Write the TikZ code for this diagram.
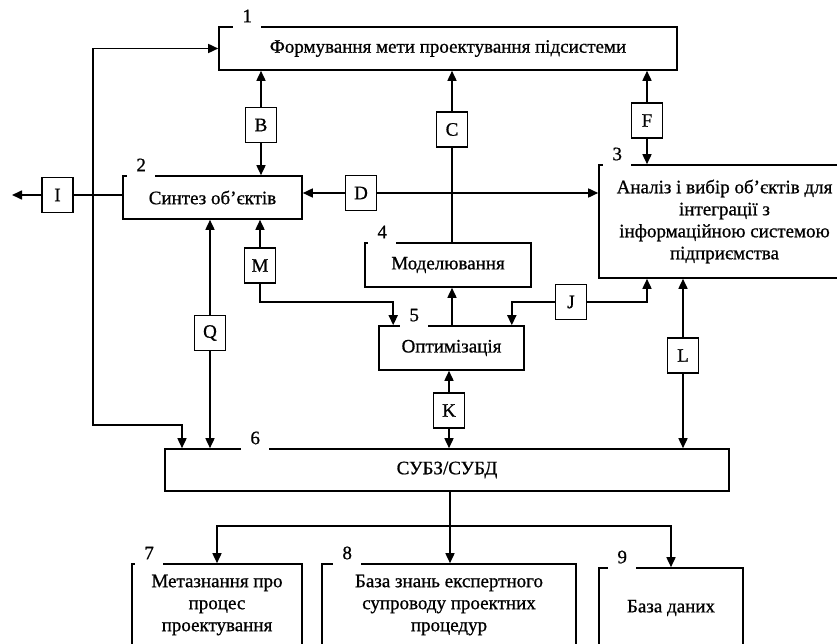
\documentclass[tikz,border=0pt]{standalone}
\usepackage{fontspec}
\setmainfont{Liberation Serif}[FakeBold=0.8]
\usetikzlibrary{arrows.meta}

\begin{document}
\begin{tikzpicture} [x=1pt, y=-1pt, line width=1.6pt, >={Triangle[length=10pt,width=9pt]},
    font=\fontsize{19}{22}\selectfont,
    blk/.style={draw, inner sep=0pt, align=center},
    tag/.style={draw, fill=white, minimum width=31pt, minimum height=35pt, inner sep=0pt},
    num/.style={fill=white, anchor=base, minimum width=28pt, inner sep=0pt, text depth=6pt}]
    \useasboundingbox (0,0) rectangle (837,644);
    \clip (0,0) rectangle (837,644);

    \node (b1) [blk, minimum width=458pt, minimum height=43pt] at (448,48.5) {Формування мети проектування підсистеми};
    \node (b2) [blk, minimum width=179pt, minimum height=43pt] at (212.5,197.5) {Синтез об’єктів};
    \node (b3) [blk, minimum width=251pt, minimum height=113pt] at (724.5,221.5) {Аналіз і вибір об’єктів для\\інтеграції з\\інформаційною системою\\підприємства};
    \node (b4) [blk, minimum width=166pt, minimum height=44pt] at (448,265) {Моделювання};
    \node (b5) [blk, minimum width=145pt, minimum height=44pt] at (451.5,348) {Оптимізація};
    \node (b6) [blk, minimum width=564pt, minimum height=42pt] at (447,470) {СУБЗ/СУБД};
    \node (b7) [blk, minimum width=170pt, minimum height=82pt] at (217,605) {Метазнання про\\процес\\проектування};
    \node (b8) [blk, minimum width=254pt, minimum height=82pt] at (449,605) {База знань експертного\\супроводу проектних\\процедур};
    \node (b9) [blk, minimum width=144pt, minimum height=80pt] at (671,608) {База даних};

    \node (n1) [num] at ([xshift=29pt,yshift=4pt]b1.north west) {1};
    \node (n2) [num] at ([xshift=19pt,yshift=4pt]b2.north west) {2};
    \node (n3) [num] at ([xshift=19pt,yshift=4pt]b3.north west) {3};
    \node (n4) [num] at ([xshift=18pt,yshift=4pt]b4.north west) {4};
    \node (n5) [num] at ([xshift=36pt,yshift=4pt]b5.north west) {5};
    \node (n6) [num] at ([xshift=91pt,yshift=4pt]b6.north west) {6};
    \node (n7) [num] at ([xshift=18pt,yshift=4pt]b7.north west) {7};
    \node (n8) [num] at ([xshift=26pt,yshift=4pt]b8.north west) {8};
    \node (n9) [num] at ([xshift=24pt,yshift=4pt]b9.north west) {9};

    \node (I) [tag] at (57.5,195) {I};
    \node (B) [tag] at (261,125) {B};
    \node (C) [tag] at (452,129.5) {C};
    \node (D) [tag] at (361,193) {D};
    \node (F) [tag] at (647,120.5) {F};
    \node (M) [tag] at (260,265.5) {M};
    \node (Q) [tag] at (210,333) {Q};
    \node (J) [tag] at (571,302) {J};
    \node (K) [tag] at (449,410.5) {K};
    \node (L) [tag] at (683,355.5) {L};

    \coordinate (iout) at (12,195);
    \coordinate (lp) at (93,425);
    \coordinate (lq) at (182,425);
    \coordinate (sp) at (450,526);

    \draw (I.east) -- (I -| b2.west);
    \draw [->] (I.west) -- (iout);
    \draw [<->] (b1.west) -| (lp) -- (lq) -- (lq |- b6.north);
    \draw [->] (B.north) -- (B |- b1.south);
    \draw [->] (B.south) -- (B |- b2.north);
    \draw (C.south) -- (C |- b4.north);
    \draw [->] (C.north) -- (C |- b1.south);
    \draw [->] (F.north) -- (F |- b1.south);
    \draw [->] (F.south) -- (F |- b3.north);
    \draw [->] (D.west) -- (D -| b2.east);
    \draw [->] (D.east) -- (D -| b3.west);
    \draw [->] (M.north) -- (M |- b2.south);
    \draw [->] (M.south) -- ++(0,18) -| ([xshift=15pt]b5.north west);
    \draw [->] (Q.north) -- (Q |- b2.south);
    \draw [->] (Q.south) -- (Q |- b6.north);
    \draw [->] (C |- b5.north) -- (C |- b4.south);
    \draw [->] (J.east) -| (F |- b3.south);
    \draw [->] (J.west) -| ([xshift=-13pt]b5.north east);
    \draw [->] (K.north) -- (K |- b5.south);
    \draw [->] (K.south) -- (K |- b6.north);
    \draw [->] (L.north) -- (L |- b3.south);
    \draw [->] (L.south) -- (L |- b6.north);
    \draw [->] (sp |- b6.south) -- (sp |- b8.north);
    \draw [<-] (b7.north) |- (sp);
    \draw [<-] (b9.north) |- (sp);
\end{tikzpicture}
\end{document}
